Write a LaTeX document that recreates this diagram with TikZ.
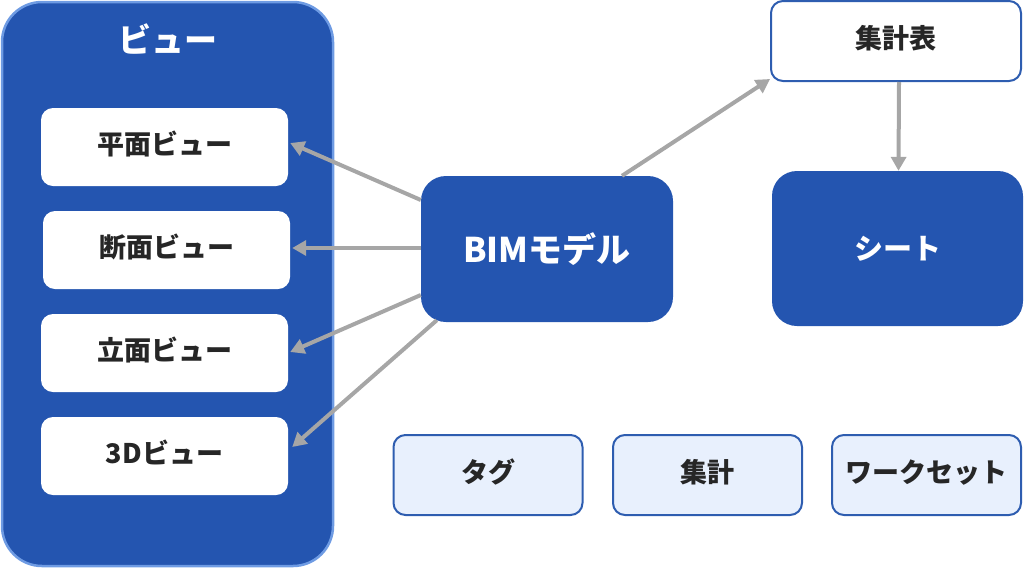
\documentclass[tikz,border=0pt]{standalone}
\usepackage{fontspec}
\setmainfont{Noto Sans CJK JP}
\usetikzlibrary{arrows.meta}
\definecolor{mblue}{RGB}{36,85,176}
\definecolor{lborder}{RGB}{110,155,227}
\definecolor{bborder}{RGB}{46,93,176}
\definecolor{lfill}{RGB}{232,240,253}
\definecolor{agray}{RGB}{166,166,166}
\tikzset{
  container/.style={fill=mblue,draw=lborder,line width=2.5pt,rounded corners=40pt,minimum width=331pt,minimum height=564pt,inner sep=0pt},
  viewbox/.style={fill=white,rounded corners=12pt,minimum width=247pt,minimum height=78pt,inner sep=0pt,font=\bfseries\fontsize{27}{32}\selectfont,text=black!85,text height=20pt,text depth=5pt},
  bigbox/.style={fill=mblue,rounded corners=25pt,inner sep=0pt,font=\bfseries\fontsize{34}{40}\selectfont,text=white},
  topbox/.style={fill=white,draw=bborder,line width=2pt,rounded corners=12pt,minimum width=250pt,minimum height=80pt,inner sep=0pt,font=\bfseries\fontsize{27}{32}\selectfont,text=black!85,text height=20pt,text depth=5pt},
  lightbox/.style={fill=lfill,draw=bborder,line width=2pt,rounded corners=12pt,minimum width=189pt,minimum height=80pt,inner sep=0pt,font=\bfseries\fontsize{27}{32}\selectfont,text=black!85,text height=20pt,text depth=5pt},
  conn/.style={draw=agray,line width=4pt,-{Triangle[length=14pt,width=15pt]}}
}
\begin{document}
\begin{tikzpicture}[x=1pt,y=-1pt]
\useasboundingbox (0,0) rectangle (1024,568);
\node[container] (views) at (167.5,284) {};
\node[text=white,font=\bfseries\fontsize{33}{38}\selectfont] (vtitle) at (168,39) {ビュー};
\node[viewbox] (plan) at (164.5,147) {平面ビュー};
\node[viewbox] (sect) at (166.5,250) {断面ビュー};
\node[viewbox] (elev) at (164.5,353) {立面ビュー};
\node[viewbox] (three) at (164.5,456) {3Dビュー};
\node[bigbox,minimum width=252pt,minimum height=146pt] (bim) at (547,249) {BIMモデル};
\node[topbox] (sum) at (896,41) {集計表};
\node[bigbox,minimum width=251pt,minimum height=155pt,font=\bfseries\fontsize{29}{34}\selectfont] (sheet) at (897.5,248.5) {シート};
\node[lightbox] (tag) at (488,475) {タグ};
\node[lightbox] (agg) at (707.5,475) {集計};
\node[lightbox] (work) at (926.5,475) {ワークセット};
\draw[conn] ([yshift=49pt]bim.west) -- ([xshift=2pt,yshift=4pt]plan.east);
\draw[conn] ([yshift=1pt]bim.west) -- ([xshift=2pt,yshift=2pt]sect.east);
\draw[conn] ([yshift=-46pt]bim.west) -- ([xshift=2pt,yshift=1pt]elev.east);
\draw[conn] ([xshift=16pt,yshift=2pt]bim.south west) -- ([xshift=4pt,yshift=9pt]three.east);
\draw[conn] ([xshift=75pt]bim.north) -- ([yshift=3pt]sum.south west);
\draw[conn] ([xshift=3pt]sum.south) -- ([xshift=1pt]sheet.north);
\end{tikzpicture}
\end{document}
